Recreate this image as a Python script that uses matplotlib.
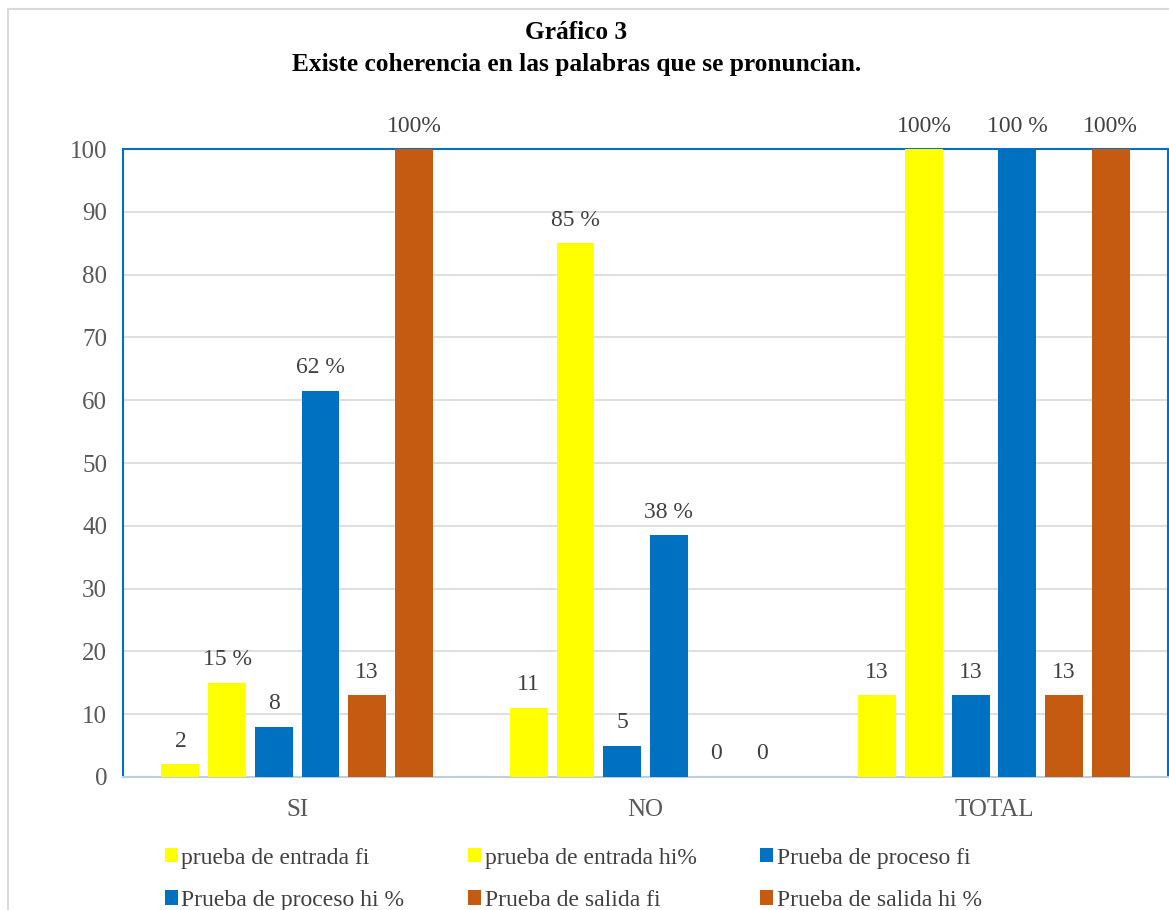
import matplotlib.pyplot as plt
import numpy as np
from matplotlib.patches import Rectangle

plt.rcParams['font.family'] = ['Liberation Serif', 'DejaVu Serif']

categories = ['SI', 'NO', 'TOTAL']
series_names = ['prueba de entrada fi', 'prueba de entrada hi%', 'Prueba de proceso fi',
                'Prueba de proceso hi %', 'Prueba de salida fi', 'Prueba de salida hi %']
series_colors = ['#FFFF00', '#FFFF00', '#0070C0', '#0070C0', '#C55A11', '#C55A11']

entrada_fi = [2, 11, 13]
entrada_hi = [15, 85, 100]
proceso_fi = [8, 5, 13]
proceso_hi = [61.5, 38.5, 100]
salida_fi = [13, 0, 13]
salida_hi = [100, 0, 100]

entrada_fi_lbl = ['2', '11', '13']
entrada_hi_lbl = ['15 %', '85 %', '100%']
proceso_fi_lbl = ['8', '5', '13']
proceso_hi_lbl = ['62 %', '38 %', '100 %']
salida_fi_lbl = ['13', '0', '13']
salida_hi_lbl = ['100%', '0', '100%']

values = [entrada_fi, entrada_hi, proceso_fi, proceso_hi, salida_fi, salida_hi]
labels = [entrada_fi_lbl, entrada_hi_lbl, proceso_fi_lbl, proceso_hi_lbl, salida_fi_lbl, salida_hi_lbl]

fig = plt.figure(figsize=(11.69, 9.10), dpi=100)
ax = fig.add_axes([0.1052, 0.1462, 0.894, 0.690])

# outer chart border
fig.patches.append(Rectangle((8 / 1169, -0.1), 1.2, 1 - 9 / 910 + 0.1, transform=fig.transFigure,
                             fill=False, edgecolor='#D9D9D9', linewidth=1.5))

x = np.arange(len(categories))
slot = 0.134
width = 0.109
handles = []
for i in range(6):
    pos = x + (i - 2.5) * slot
    b = ax.bar(pos, values[i], width, color=series_colors[i], label=series_names[i], zorder=3)
    handles.append(b)
    for xp, v, t in zip(pos, values[i], labels[i]):
        ax.annotate(t, (xp, v), xytext=(0, 23), textcoords='offset pixels', ha='center',
                    va='center', fontsize=17, color='#404040', annotation_clip=False)

ax.set_xlim(-0.5, 2.5)
ax.set_ylim(0, 100)
ax.set_yticks(range(0, 101, 10))
ax.set_xticks(x)
ax.set_xticklabels(categories)
ax.tick_params(axis='both', length=0, labelsize=18, labelcolor='#595959')
ax.tick_params(axis='y', pad=11.5)
ax.tick_params(axis='x', pad=16)
ax.grid(axis='y', color='#D9D9D9', linewidth=1.2, zorder=0)

for side in ['left', 'top', 'right']:
    ax.spines[side].set_color('#0070C0')
    ax.spines[side].set_linewidth(1.5)
ax.spines['bottom'].set_color('#BCCFE0')
ax.spines['bottom'].set_linewidth(1.5)

fig.text(0.493, 0.964, 'Gráfico 3', ha='center', va='center', fontsize=18.3, fontweight='bold')
fig.text(0.493, 0.929, 'Existe coherencia en las palabras que se pronuncian.', ha='center',
         va='center', fontsize=18.3, fontweight='bold')

order = [0, 3, 1, 4, 2, 5]
leg = fig.legend([handles[k] for k in order], [series_names[k] for k in order], ncol=3,
                 loc='upper left', bbox_to_anchor=(0.133, 0.079), frameon=False, fontsize=17,
                 handlelength=0.55, handleheight=0.55, handletextpad=0.15, columnspacing=2.7,
                 labelspacing=0.9, borderaxespad=0)
for t in leg.get_texts():
    t.set_color('#404040')

fig.savefig('out.png', dpi=100)
